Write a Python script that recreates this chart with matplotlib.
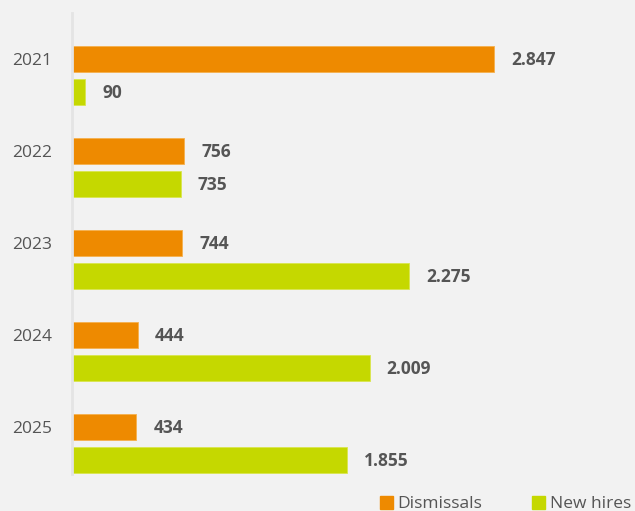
import matplotlib.pyplot as plt
from matplotlib.patches import Patch

years = ['2021', '2022', '2023', '2024', '2025']
dismissals = [2847, 756, 744, 444, 434]
new_hires = [90, 735, 2275, 2009, 1855]

orange = '#ee8a00'
green = '#c5d800'
grey = '#555555'
bg = '#f2f2f2'


def fmt(v):
    # dot as thousands separator
    return f'{v:,}'.replace(',', '.')


fig = plt.figure(figsize=(6.35, 5.11), dpi=100, facecolor=bg)
# axes in pixel-like coordinates: y from 13 (top) to 474 (bottom)
ax = fig.add_axes([72 / 635, 37 / 511, 1 - 72 / 635, 461 / 511], facecolor=bg)

step = 92.1
for i, (y, d, n) in enumerate(zip(years, dismissals, new_hires)):
    yd = 59 + step * i
    yn = yd + 33
    ax.barh(yd, d, height=26, color=orange, edgecolor='#f5b04d', linewidth=0.6)
    ax.barh(yn, n, height=26, color=green, edgecolor='#d9e64d', linewidth=0.6)
    ax.text(d + 115, yd + 1, fmt(d), va='center', ha='left', fontsize=12.5,
            fontweight='bold', color=grey, family='Open Sans')
    ax.text(n + 115, yn + 1, fmt(n), va='center', ha='left', fontsize=12.5,
            fontweight='bold', color=grey, family='Open Sans')

ax.set_yticks([59 + step * i for i in range(len(years))])
ax.set_yticklabels(years, fontsize=12.5, color=grey, family='Open Sans')
ax.tick_params(axis='y', length=0, pad=14.5)
ax.set_xticks([])
ax.set_xlim(0, 3800)
ax.set_ylim(474, 13)
for s in ['top', 'right', 'bottom']:
    ax.spines[s].set_visible(False)
ax.spines['left'].set_color('#e4e4e4')
ax.spines['left'].set_linewidth(2)

handles = [Patch(color=orange, label='Dismissals'), Patch(color=green, label='New hires')]
fig.legend(handles=handles, loc='lower right', bbox_to_anchor=(1.018, -0.033), ncol=2,
           frameon=False, handlelength=0.75, handleheight=0.75, handletextpad=0.25,
           columnspacing=2.9, prop={'family': 'Open Sans', 'size': 12.5},
           labelcolor=grey)

fig.savefig('out.png', dpi=100, facecolor=bg)
